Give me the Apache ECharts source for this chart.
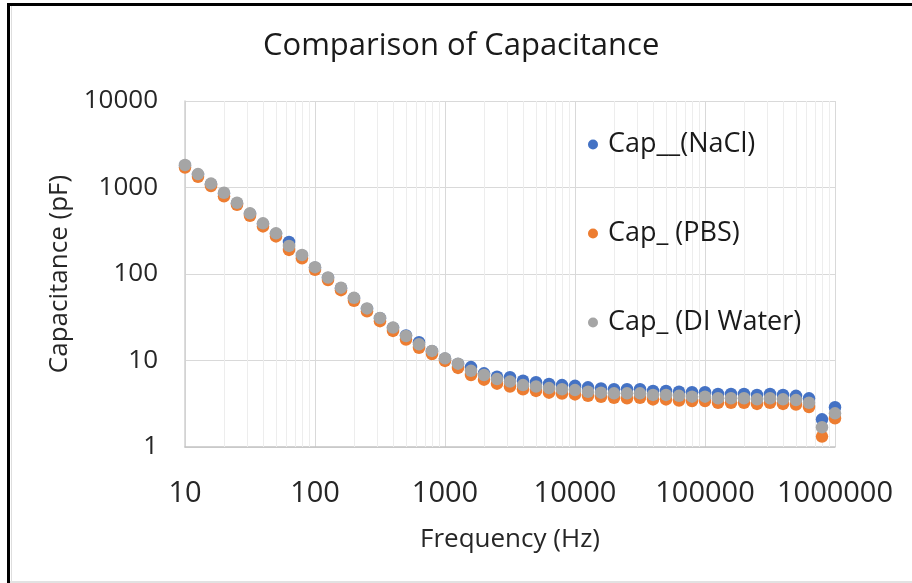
<!DOCTYPE html>
<html>
<head>
<meta charset="utf-8">
<title>Comparison of Capacitance</title>
<script src="https://cdn.jsdelivr.net/npm/echarts@6.0.0/dist/echarts.min.js"></script>
<style>
  html, body { margin: 0; padding: 0; background: #fff; }
  #main { width: 912px; height: 583px; }
</style>
</head>
<body>
<div id="main"></div>
<script>
// frequency points (Hz), 10 per decade
const freqHz = [
  10, 12.59, 15.85, 19.95, 25.12, 31.62, 39.81, 50.12, 63.1, 79.43,
  100, 125.9, 158.5, 199.5, 251.2, 316.2, 398.1, 501.2, 631, 794.3,
  1000, 1259, 1585, 1995, 2512, 3162, 3981, 5012, 6310, 7943,
  10000, 12589, 15849, 19953, 25119, 31623, 39811, 50119, 63096, 79433,
  100000, 125893, 158489, 199526, 251189, 316228, 398107, 501187, 630957, 794328,
  1000000
]

// capacitance (pF)
const capNaCl = [
  1790, 1400, 1090, 850, 655, 495, 378, 290, 235, 163,
  118, 90, 68.5, 52.5, 39.5, 30.8, 23.8, 19.5, 16.3, 12.8,
  10.5, 9.1, 8.4, 7.1, 6.5, 6.4, 5.85, 5.6, 5.35, 5.2,
  5.1, 4.9, 4.75, 4.65, 4.65, 4.65, 4.45, 4.45, 4.35, 4.3,
  4.3, 4.1, 4.1, 4.1, 4.0, 4.1, 4.0, 3.9, 3.65, 2.09,
  2.88
]
const capPBS = [
  1700, 1330, 1040, 790, 630, 470, 355, 272, 190, 152,
  112, 85, 65, 49, 37, 28.5, 22, 17.5, 14, 11.9,
  9.9, 8.2, 6.8, 6.0, 5.4, 5.0, 4.65, 4.45, 4.25, 4.15,
  4.05, 3.9, 3.8, 3.7, 3.65, 3.7, 3.55, 3.55, 3.45, 3.4,
  3.4, 3.25, 3.25, 3.25, 3.15, 3.25, 3.15, 3.1, 2.9, 1.32,
  2.15
]
const capDIWater = [
  1820, 1430, 1110, 870, 667, 503, 385, 295, 211, 166,
  120, 91, 69.5, 53, 40, 31, 24, 19.2, 15.4, 12.9,
  10.6, 9.2, 7.6, 6.8, 6.1, 5.7, 5.2, 5.0, 4.8, 4.65,
  4.55, 4.35, 4.25, 4.17, 4.17, 4.17, 4.0, 4.0, 3.9, 3.82,
  3.82, 3.66, 3.66, 3.66, 3.56, 3.66, 3.56, 3.49, 3.25, 1.69,
  2.45
]

const seriesNames = ['Cap__(NaCl)', 'Cap_ (PBS)', 'Cap_ (DI Water)']
const seriesColors = ['#4472C4', '#ED7D31', '#A5A5A5']

// minor vertical gridlines at 2..9 of every decade
const minorX = []
for (let d = 10; d < 1000000; d *= 10) {
  for (let m = 2; m <= 9; m++) minorX.push(m * d)
}

const font = '"Open Sans", "Noto Sans", sans-serif'
const pair = (ys) => freqHz.map((f, i) => [f, ys[i]])

const myChart = echarts.init(document.getElementById('main'), null, { renderer: 'canvas' })

const option = {
  animation: false,
  backgroundColor: '#ffffff',
  title: {
    text: 'Comparison of Capacitance',
    left: 263,
    top: 31,
    padding: 0,
    textStyle: { fontFamily: font, fontSize: 31, fontWeight: 'normal', color: '#1a1a1a' }
  },
  legend: {
    orient: 'vertical',
    left: 588,
    top: 131,
    itemWidth: 20,
    itemHeight: 10,
    itemGap: 62,
    padding: 0,
    data: seriesNames,
    textStyle: { fontFamily: font, fontSize: 27, color: '#1a1a1a' }
  },
  grid: {
    left: 185,
    right: 77,
    top: 101,
    bottom: 136,
    containLabel: false,
    outerBoundsMode: 'none'
  },
  xAxis: {
    type: 'log',
    logBase: 10,
    min: 10,
    max: 1000000,
    name: 'Frequency (Hz)',
    nameLocation: 'middle',
    nameGap: 80,
    nameTextStyle: { fontFamily: font, fontSize: 26, color: '#262626' },
    axisLine: { show: true, lineStyle: { color: '#c4c4c4', width: 1.5 } },
    axisTick: { show: false },
    axisLabel: {
      margin: 32,
      fontFamily: font,
      fontSize: 29,
      color: '#262626',
      formatter: v => String(Math.round(v))
    },
    splitLine: { show: true, lineStyle: { color: '#d9d9d9', width: 1 } }
  },
  yAxis: {
    type: 'log',
    logBase: 10,
    min: 1,
    max: 10000,
    name: 'Capacitance (pF)',
    nameLocation: 'middle',
    nameGap: 110,
    nameTextStyle: { fontFamily: font, fontSize: 26, color: '#262626' },
    axisLine: { show: true, lineStyle: { color: '#d0d0d0', width: 1.5 } },
    axisTick: { show: false },
    axisLabel: {
      margin: 27,
      fontFamily: font,
      fontSize: 26,
      color: '#262626',
      formatter: v => String(Math.round(v))
    },
    splitLine: { show: true, lineStyle: { color: '#d9d9d9', width: 1 } }
  },
  graphic: [
    // outer frame of the picture
    { type: 'rect', shape: { x: 7, y: 3, width: 905, height: 3 }, style: { fill: '#000' }, silent: true },
    { type: 'rect', shape: { x: 7, y: 3, width: 3, height: 580 }, style: { fill: '#000' }, silent: true },
    { type: 'rect', shape: { x: 11, y: 6, width: 1, height: 577 }, style: { fill: '#dedede' }, silent: true },
    { type: 'rect', shape: { x: 10, y: 581, width: 902, height: 2 }, style: { fill: '#e2e2e2' }, silent: true }
  ],
  series: [
    {
      type: 'custom',
      silent: true,
      z: 1,
      data: minorX.map(v => [v, 1]),
      renderItem: (params, api) => {
        const x = Math.round(api.coord([api.value(0), 1])[0]) + 0.5
        const cs = params.coordSys
        return {
          type: 'line',
          shape: { x1: x, y1: cs.y, x2: x, y2: cs.y + cs.height },
          style: { stroke: '#ededed', lineWidth: 1 }
        }
      }
    },
    ...[capNaCl, capPBS, capDIWater].map((ys, i) => ({
      name: seriesNames[i],
      type: 'scatter',
      z: 3 + i,
      symbol: 'circle',
      symbolSize: 12.5,
      itemStyle: { color: seriesColors[i], opacity: 1 },
      data: pair(ys)
    }))
  ]
}

myChart.setOption(option)
</script>
</body>
</html>
